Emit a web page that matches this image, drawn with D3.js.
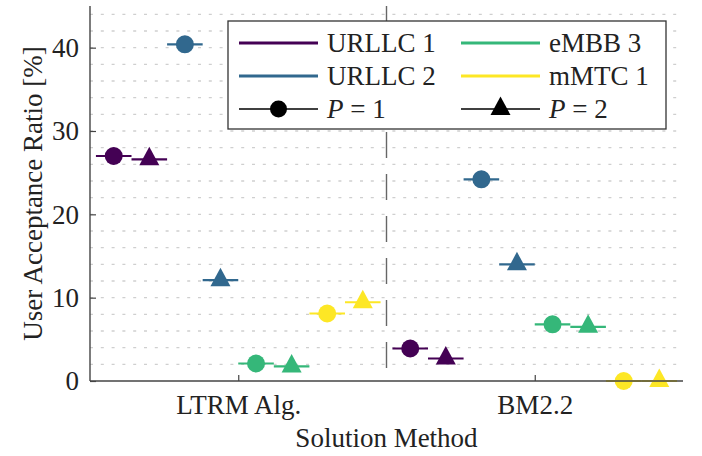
<!DOCTYPE html>
<html><head><meta charset="utf-8"><script src="https://cdn.jsdelivr.net/npm/d3@7"></script></head>
<body style="margin:0">
<script>
let w = 702;
let h = 456;
let padL = 90, padR = 683, padT = 6, padB = 381;

// data
let methods = ["LTRM Alg.", "BM2.2"];
let services = ["URLLC 1", "URLLC 2", "eMBB 3", "mMTC 1"];
let colors = ["#440154", "#31688e", "#35b779", "#fde725"];
// [method][service]
let p1Values = [[27.0, 40.4, 2.1, 8.1], [3.9, 24.2, 6.8, 0.0]];
let p2Values = [[26.6, 12.1, 1.75, 9.45], [2.7, 14.0, 6.5, 0.0]];
let yTicks = [0, 10, 20, 30, 40];

let slot = 0.12; // width of one marker slot (x units)

let points = [];
methods.forEach((m, mi) => {
  services.forEach((s, si) => {
    [p1Values, p2Values].forEach((vals, pi) => {
      points.push({
        pos: mi + 1 + (si * 2 + pi - 3.5) * slot,
        value: vals[mi][si],
        color: colors[si],
        p: pi + 1
      });
    });
  });
});

let xScale = d3.scaleLinear().domain([0.5, 2.5]).range([padL, padR]);
let yScale = d3.scaleLinear().domain([0, 45]).range([padB, padT]);

let svg = d3.select("body").append("svg").attr("width", w).attr("height", h);

function styleText(sel) {
  sel.attr("font-family", "Liberation Serif")
    .style("font-family", "'Liberation Serif'")
    .style("font-size", "27px")
    .attr("fill", "#222");
}

// dotted grid every 2
svg.selectAll("line.grid")
  .data(d3.range(2, 45, 2))
  .enter()
  .append("line")
  .attr("class", "grid")
  .attr("x1", padL)
  .attr("x2", padR)
  .attr("y1", (d) => yScale(d))
  .attr("y2", (d) => yScale(d))
  .attr("stroke", "#cfcfcf")
  .attr("stroke-width", 1.3)
  .attr("stroke-dasharray", "3,7.8");

// separator
svg.append("line")
  .attr("x1", xScale(1.5))
  .attr("x2", xScale(1.5))
  .attr("y1", padT)
  .attr("y2", padB)
  .attr("stroke", "#666")
  .attr("stroke-width", 1.4)
  .attr("stroke-dasharray", "26,16");

// horizontal segments
svg.selectAll("line.seg")
  .data(points)
  .enter()
  .append("line")
  .attr("class", "seg")
  .attr("x1", (d) => xScale(d.pos - slot / 2))
  .attr("x2", (d) => xScale(d.pos + slot / 2))
  .attr("y1", (d) => yScale(d.value))
  .attr("y2", (d) => yScale(d.value))
  .attr("stroke", (d) => d.color)
  .attr("stroke-width", 2.2);

let triPath = "M0,-12.5L10,6L-10,6Z";

svg.selectAll("circle.m")
  .data(points.filter((d) => d.p == 1))
  .enter()
  .append("circle")
  .attr("class", "m")
  .attr("cx", (d) => xScale(d.pos))
  .attr("cy", (d) => yScale(d.value))
  .attr("r", 9)
  .attr("fill", (d) => d.color);

svg.selectAll("path.m")
  .data(points.filter((d) => d.p == 2))
  .enter()
  .append("path")
  .attr("class", "m")
  .attr("d", triPath)
  .attr("transform", (d) => "translate(" + xScale(d.pos) + "," + yScale(d.value) + ")")
  .attr("fill", (d) => d.color);

// axes
let yAxis = d3.axisLeft(yScale).tickValues(yTicks).tickSize(-6).tickPadding(11);
let xAxis = d3.axisBottom(xScale).tickValues([1, 2])
  .tickFormat((d) => methods[d - 1]).tickSize(-6).tickPadding(14);

let gy = svg.append("g")
  .attr("transform", "translate(" + padL + ",0)")
  .call(yAxis);
let gx = svg.append("g")
  .attr("transform", "translate(0," + padB + ")")
  .call(xAxis);

[gx, gy].forEach((g) => {
  g.attr("font-family", "Liberation Serif").attr("font-size", 27);
  g.select(".domain").attr("stroke", "#444").attr("stroke-width", 1.4);
  g.selectAll(".tick line").attr("stroke", "#444").attr("stroke-width", 1.2);
  g.selectAll(".tick text").call(styleText);
});
gy.selectAll(".tick text").attr("dy", "0.33em");
gx.selectAll(".tick text").attr("dy", "0.71em");
gy.select(".domain").attr("d", "M0," + padT + "V" + padB);
gx.select(".domain").attr("d", "M" + padL + ",0H" + padR);

// axis labels
svg.append("text")
  .attr("x", xScale(1.5))
  .attr("y", 447)
  .attr("text-anchor", "middle")
  .call(styleText)
  .text("Solution Method");

svg.append("text")
  .attr("transform", "translate(42," + (padT + padB) / 2 + ") rotate(-90)")
  .attr("text-anchor", "middle")
  .call(styleText)
  .text("User Acceptance Ratio [%]");

// legend
let lg = svg.append("g");
lg.append("rect")
  .attr("x", 228)
  .attr("y", 21)
  .attr("width", 438)
  .attr("height", 108)
  .attr("fill", "#fff")
  .attr("stroke", "#333")
  .attr("stroke-width", 1.3);

let legendItems = [
  { label: services[0], color: colors[0], col: 0, row: 0 },
  { label: services[1], color: colors[1], col: 0, row: 1 },
  { label: services[2], color: colors[2], col: 1, row: 0 },
  { label: services[3], color: colors[3], col: 1, row: 1 },
  { label: "1", color: "#000", col: 0, row: 2, marker: "circle" },
  { label: "2", color: "#000", col: 1, row: 2, marker: "tri" }
];
let colX = [239, 461];
let rowY = [43, 76, 109];

legendItems.forEach((d) => {
  let x0 = colX[d.col], y0 = rowY[d.row];
  lg.append("line")
    .attr("x1", x0).attr("x2", x0 + 79)
    .attr("y1", y0).attr("y2", y0)
    .attr("stroke", d.color)
    .attr("stroke-width", d.marker ? 1.3 : 3);
  if (d.marker == "circle") {
    lg.append("circle").attr("cx", x0 + 39.5).attr("cy", y0).attr("r", 8.5).attr("fill", "#000");
  } else if (d.marker == "tri") {
    lg.append("path").attr("d", triPath)
      .attr("transform", "translate(" + (x0 + 39.5) + "," + y0 + ")")
      .attr("fill", "#000");
  }
  let t = lg.append("text")
    .attr("x", x0 + 88)
    .attr("y", y0 + 9)
    .call(styleText);
  if (d.marker) {
    t.append("tspan").style("font-style", "italic").text("P");
    t.append("tspan").text(" = " + d.label);
  } else {
    t.text(d.label);
  }
});
</script></body></html>
